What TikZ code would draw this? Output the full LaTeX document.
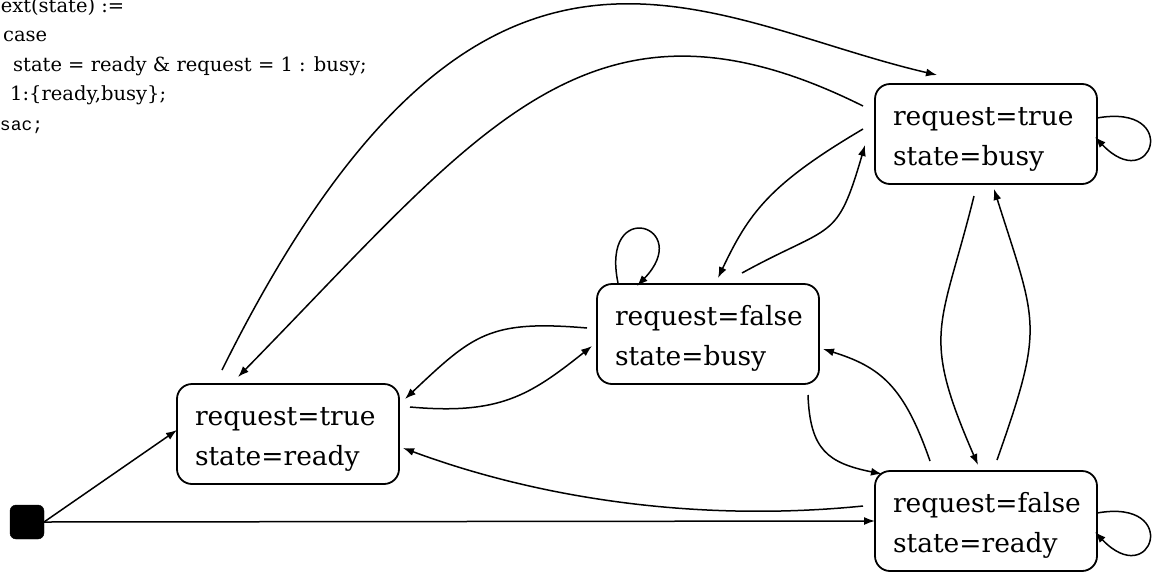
\documentclass[tikz,border=0pt]{standalone}
\usepackage{fontspec}
\setmainfont{DejaVu Serif}
\newfontfamily\codemono{Liberation Mono}
\usetikzlibrary{arrows.meta,calc}

\newcommand{\firstline}{\rule{0pt}{28pt}}

\begin{document}
\begin{tikzpicture}[x=1pt,y=-1pt,
  statebox/.style={draw, line width=1.8pt, rounded corners=15pt, outer sep=0pt,
    minimum height=100pt, text width=186pt, inner xsep=18pt, inner ysep=0pt,
    align=left, font=\fontsize{26.5}{40}\selectfont},
  initbox/.style={fill=black, draw=black, rounded corners=6pt, minimum size=34pt,
    inner sep=0pt, outer sep=0pt},
  conn/.style={line width=1.5pt, -{Latex[length=11pt,width=8pt]}},
  codeline/.style={anchor=base west, inner sep=0pt, font=\fontsize{19.5}{29}\selectfont},
]
\useasboundingbox (0,0) rectangle (1154,571);
\clip (0,0) rectangle (1154,571);

% SMV-style transition relation
\node[codeline] (c1) at (-12,12) {next(state) :=};
\node[codeline] (c2) at (3,41) {case};
\node[codeline] (c3) at (13,71) {state = ready \& request = 1 : busy;};
\node[codeline] (c4) at (10,100) {1:\{ready,busy\};};
\node[codeline, font=\codemono\fontsize{18}{29}\selectfont] (c5) at (-11,130) {esac;};

% states
\node[initbox] (init) at (27,522) {};
\node[statebox] (rr) at (288,434) {\firstline request=true\\state=ready};
\node[statebox] (fb) at (708,334) {\firstline request=false\\state=busy};
\node[statebox] (rb) at (986,134) {\firstline request=true\\state=busy};
\node[statebox] (fr) at (986,521) {\firstline request=false\\state=ready};

% initial transitions
\draw[conn] (init.east) -- ($(rr.west)+(0,-4)$);
\draw[conn] (init.east) -- (fr.west);

% long arcs between request=true states
\draw[conn] ($(rr.north west)+(45,-14)$) .. controls (480,-150) and (700,20) .. ($(rb.north west)+(62,-9)$);
\draw[conn] ($(rb.north west)+(-12,22)$) .. controls (590,-30) and (480,130) .. ($(rr.north west)+(61,-7)$);

% busy states
\draw[conn] ($(rb.north west)+(-12,45)$) .. controls (769,184.5) and (749,213) .. ($(fb.north west)+(121,-6)$);
\draw[conn] ($(fb.north west)+(145,-11)$) .. controls (833,223) and (836.5,243) .. ($(rb.north west)+(-10,61)$);

% false/busy and true/ready
\draw[conn] ($(fb.north west)+(-10,44)$) .. controls (489.6,319.7) and (473.5,334.3) .. ($(rr.north east)+(6,15)$);
\draw[conn] ($(rr.north east)+(11,23)$) .. controls (499.6,415) and (529.6,395.6) .. ($(fb.north west)+(-5,62)$);

% self loop on false/busy
\draw[conn] ($(fb.north west)+(21,-1)$) .. controls (600,196) and (695,226) .. ($(fb.north west)+(40,2)$);

% true/busy and false/ready
\draw[conn] ($(rb.south west)+(99,12)$) .. controls (941,329) and (920,332) .. ($(fr.north west)+(103,-6)$);
\draw[conn] ($(fr.north west)+(122,-11)$) .. controls (1045,324) and (1037,325) .. ($(rb.south west)+(119,5)$);

% false/busy and false/ready
\draw[conn] ($(fb.south east)+(-11,11)$) .. controls (810,450) and (828,463) .. ($(fr.north west)+(7,3)$);
\draw[conn] ($(fr.north west)+(55,-10)$) .. controls (904,386) and (880.6,367) .. ($(fb.south east)+(4,-35)$);

% false/ready to true/ready
\draw[conn] ($(fr.north west)+(-12,35)$) .. controls (694,523) and (535,497) .. ($(rr.north east)+(4,64)$);

% self loops on the right
\draw[conn] ($(rb.north east)+(0,34)$) .. controls (1182,103) and (1152,197) .. ($(rb.north east)+(-2,53)$);
\draw[conn] ($(fr.north east)+(0,42)$) .. controls (1182,498) and (1152,592) .. ($(fr.north east)+(-2,61)$);
\end{tikzpicture}
\end{document}
